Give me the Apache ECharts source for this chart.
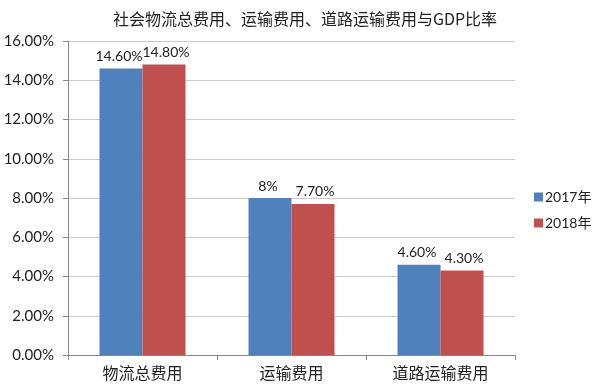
<!DOCTYPE html>
<html><head><meta charset="utf-8">
<script src="https://cdn.jsdelivr.net/npm/echarts@6/dist/echarts.min.js"></script>
<style>html,body{margin:0;padding:0;background:#fff}#c{width:600px;height:391px}</style>
</head><body><div id="c"></div>
<script>
const categories = ['物流总费用', '运输费用', '道路运输费用'];
const seriesNames = ['2017年', '2018年'];
const values2017 = [14.6, 8, 4.6];
const values2018 = [14.8, 7.7, 4.3];
const labels2017 = ['14.60%', '8%', '4.60%'];
const labels2018 = ['14.80%', '7.70%', '4.30%'];
const yTicks = [0, 2, 4, 6, 8, 10, 12, 14, 16];

const font = 'Lato,"Noto Sans CJK SC",sans-serif';
const cjk = '"Noto Sans CJK SC",sans-serif';
const chart = echarts.init(document.getElementById('c'));
chart.setOption({
  animation: false,
  title: {
    text: '社会物流总费用、运输费用、道路运输费用与GDP比率',
    left: 300, top: 6, textAlign: 'center',
    textStyle: {fontSize: 16, fontWeight: 'normal', color: '#222', fontFamily: cjk}
  },
  legend: {
    orient: 'vertical', left: 529, top: 185, itemWidth: 9, itemHeight: 9, itemGap: 12,
    icon: 'rect',
    textStyle: {fontSize: 14, color: '#222', fontFamily: font, padding: [0, 0, 0, -3]},
    data: seriesNames
  },
  grid: {left: 68, right: 85, top: 41, bottom: 36, containLabel: false},
  xAxis: {
    type: 'category', data: categories,
    axisLine: {lineStyle: {color: '#888'}},
    axisTick: {show: true, length: 5, alignWithLabel: false, lineStyle: {color: '#888'}},
    axisLabel: {fontSize: 16, color: '#222', fontFamily: cjk, margin: 10}
  },
  yAxis: {
    type: 'value', min: 0, max: 16, interval: 2,
    axisLine: {show: true, lineStyle: {color: '#888'}},
    axisTick: {show: true, length: 5, lineStyle: {color: '#888'}},
    splitLine: {lineStyle: {color: '#cccccc'}},
    axisLabel: {fontSize: 15, color: '#222', fontFamily: font, margin: 14,
      formatter: v => yTicks.includes(v) ? v.toFixed(2) + '%' : ''}
  },
  series: [
    {name: seriesNames[0], type: 'bar', data: values2017, barWidth: 43, barGap: '0%',
     itemStyle: {color: '#4F81BD'},
     label: {show: true, position: 'top', fontSize: 14, color: '#222', fontFamily: font, distance: 5,
       offset: [-2, 0], formatter: p => labels2017[p.dataIndex]}},
    {name: seriesNames[1], type: 'bar', data: values2018, barWidth: 43, barGap: '0%',
     itemStyle: {color: '#C0504D'},
     label: {show: true, position: 'top', fontSize: 14, color: '#222', fontFamily: font, distance: 5,
       offset: [2, 0], formatter: p => labels2018[p.dataIndex]}}
  ]
});
</script></body></html>
